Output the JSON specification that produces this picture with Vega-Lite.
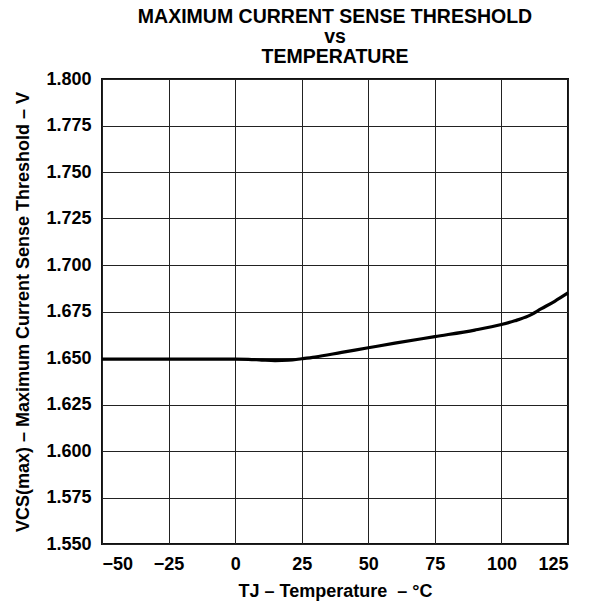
{
  "$schema": "https://vega.github.io/schema/vega-lite/v6.json",
  "autosize": "none",
  "width": 466,
  "height": 465,
  "padding": {"left": 102, "top": 79, "right": 35, "bottom": 62},
  "background": "white",
  "title": {
    "text": ["MAXIMUM CURRENT SENSE THRESHOLD", "vs", "TEMPERATURE"],
    "font": "Liberation Sans",
    "fontSize": 19.5,
    "fontWeight": "bold",
    "color": "#000",
    "lineHeight": 20,
    "offset": 3,
    "anchor": "middle"
  },
  "config": {
    "view": {"stroke": "#111", "strokeWidth": 2},
    "axis": {
      "labelFont": "Liberation Sans",
      "labelFontSize": 18,
      "labelFontWeight": "bold",
      "labelColor": "#000",
      "titleFont": "Liberation Sans",
      "titleFontSize": 18,
      "titleFontWeight": "bold",
      "titleColor": "#000",
      "domain": false,
      "ticks": false,
      "grid": true,
      "gridColor": "#222",
      "gridWidth": 1,
      "gridOpacity": 1
    }
  },
  "data": {
    "values": [
      {"t": -50, "v": 1.6494},
      {"t": -25, "v": 1.6494},
      {"t": 0, "v": 1.6494},
      {"t": 5, "v": 1.6493},
      {"t": 10, "v": 1.6489},
      {"t": 15, "v": 1.6486},
      {"t": 20, "v": 1.6488},
      {"t": 25, "v": 1.6496},
      {"t": 30, "v": 1.6505},
      {"t": 40, "v": 1.6530},
      {"t": 50, "v": 1.6555},
      {"t": 60, "v": 1.6580},
      {"t": 75, "v": 1.6615},
      {"t": 90, "v": 1.6650},
      {"t": 100, "v": 1.6680},
      {"t": 105, "v": 1.6700},
      {"t": 110, "v": 1.6725},
      {"t": 115, "v": 1.6765},
      {"t": 120, "v": 1.6805},
      {"t": 125, "v": 1.6850}
    ]
  },
  "mark": {"type": "line", "color": "#000", "strokeWidth": 3.2, "interpolate": "monotone"},
  "encoding": {
    "x": {
      "field": "t",
      "type": "quantitative",
      "scale": {"domain": [-50, 125], "nice": false, "zero": false},
      "axis": {
        "values": [-50, -25, 0, 25, 50, 75, 100, 125],
        "format": "d",
        "labelExpr": "replace(datum.label, '-', '\u2013')",
        "labelPadding": 11,
        "titlePadding": 9,
        "title": "TJ \u2013 Temperature \u00a0\u2013 \u00b0C"
      }
    },
    "y": {
      "field": "v",
      "type": "quantitative",
      "scale": {"domain": [1.55, 1.8], "nice": false, "zero": false},
      "axis": {
        "values": [1.55, 1.575, 1.6, 1.625, 1.65, 1.675, 1.7, 1.725, 1.75, 1.775, 1.8],
        "format": ".3f",
        "labelPadding": 11,
        "titlePadding": 13,
        "title": "VCS(max) \u2013 Maximum Current Sense Threshold \u2013 V"
      }
    }
  }
}
